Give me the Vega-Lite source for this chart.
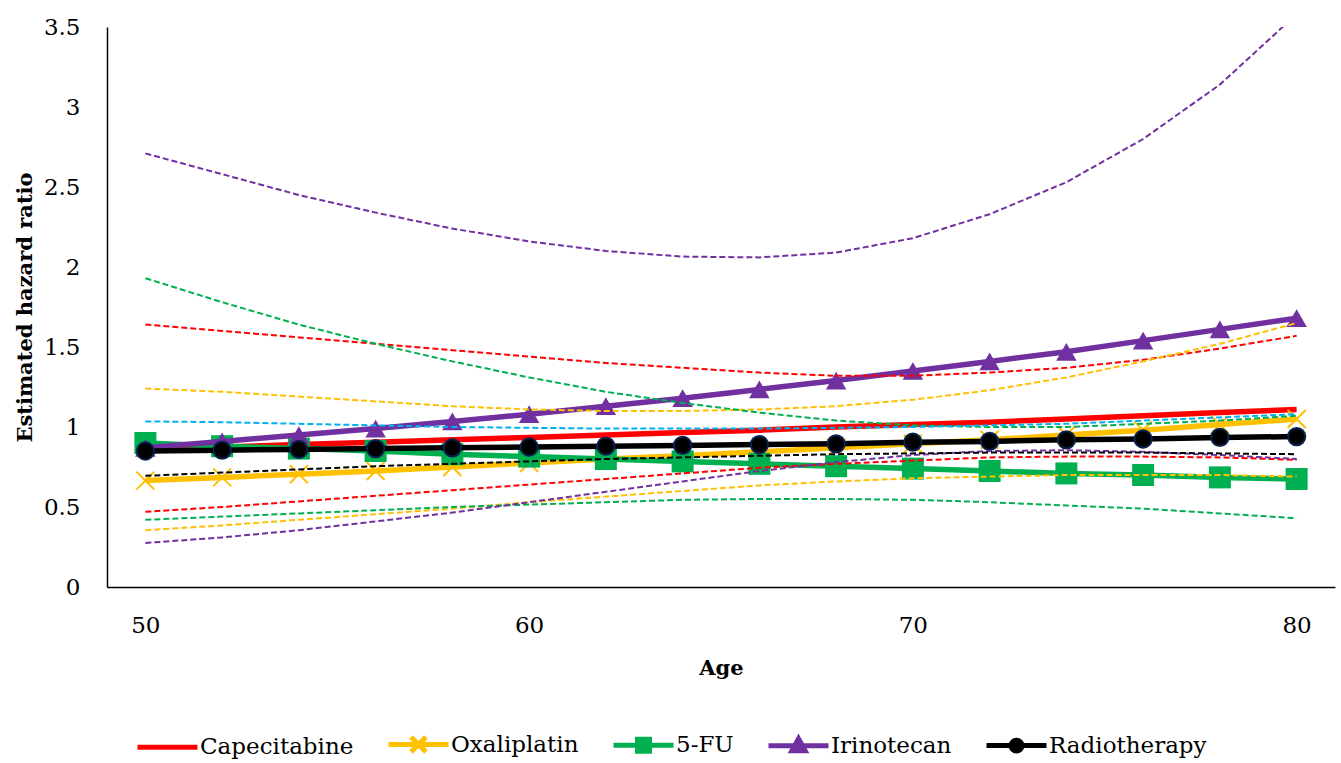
{
  "$schema": "https://vega.github.io/schema/vega-lite/v6.json",
  "width": 1228,
  "height": 560,
  "autosize": {"type": "none"},
  "padding": {"left": 107, "top": 27, "right": 6, "bottom": 176},
  "background": "white",
  "config": {
    "view": {"stroke": null},
    "font": "DejaVu Serif",
    "axis": {
      "grid": false, "ticks": false, "tickSize": 0,
      "domainColor": "#000000", "domainWidth": 1.5,
      "labelColor": "#000000", "labelFont": "DejaVu Serif", "labelFontSize": 23,
      "titleColor": "#000000", "titleFont": "DejaVu Serif", "titleFontSize": 21, "titleFontWeight": "bold"
    }
  },
  "data": {"values": [
    {"series": "Capecitabine", "age": 50, "hr": 0.86, "lo": 0.47, "hi": 1.64},
    {"series": "Capecitabine", "age": 52, "hr": 0.875, "lo": 0.50, "hi": 1.60},
    {"series": "Capecitabine", "age": 54, "hr": 0.89, "lo": 0.535, "hi": 1.56},
    {"series": "Capecitabine", "age": 56, "hr": 0.905, "lo": 0.57, "hi": 1.52},
    {"series": "Capecitabine", "age": 58, "hr": 0.92, "lo": 0.605, "hi": 1.48},
    {"series": "Capecitabine", "age": 60, "hr": 0.935, "lo": 0.64, "hi": 1.44},
    {"series": "Capecitabine", "age": 62, "hr": 0.95, "lo": 0.675, "hi": 1.40},
    {"series": "Capecitabine", "age": 64, "hr": 0.965, "lo": 0.71, "hi": 1.37},
    {"series": "Capecitabine", "age": 66, "hr": 0.98, "lo": 0.745, "hi": 1.34},
    {"series": "Capecitabine", "age": 68, "hr": 1.00, "lo": 0.77, "hi": 1.32},
    {"series": "Capecitabine", "age": 70, "hr": 1.015, "lo": 0.79, "hi": 1.32},
    {"series": "Capecitabine", "age": 72, "hr": 1.03, "lo": 0.81, "hi": 1.34},
    {"series": "Capecitabine", "age": 74, "hr": 1.05, "lo": 0.815, "hi": 1.37},
    {"series": "Capecitabine", "age": 76, "hr": 1.07, "lo": 0.815, "hi": 1.42},
    {"series": "Capecitabine", "age": 78, "hr": 1.09, "lo": 0.81, "hi": 1.49},
    {"series": "Capecitabine", "age": 80, "hr": 1.11, "lo": 0.795, "hi": 1.57},
    {"series": "Oxaliplatin", "age": 50, "hr": 0.665, "lo": 0.355, "hi": 1.24},
    {"series": "Oxaliplatin", "age": 52, "hr": 0.685, "lo": 0.385, "hi": 1.22},
    {"series": "Oxaliplatin", "age": 54, "hr": 0.705, "lo": 0.42, "hi": 1.19},
    {"series": "Oxaliplatin", "age": 56, "hr": 0.725, "lo": 0.455, "hi": 1.16},
    {"series": "Oxaliplatin", "age": 58, "hr": 0.75, "lo": 0.49, "hi": 1.13},
    {"series": "Oxaliplatin", "age": 60, "hr": 0.775, "lo": 0.53, "hi": 1.11},
    {"series": "Oxaliplatin", "age": 62, "hr": 0.80, "lo": 0.565, "hi": 1.10},
    {"series": "Oxaliplatin", "age": 64, "hr": 0.82, "lo": 0.60, "hi": 1.10},
    {"series": "Oxaliplatin", "age": 66, "hr": 0.845, "lo": 0.635, "hi": 1.11},
    {"series": "Oxaliplatin", "age": 68, "hr": 0.87, "lo": 0.66, "hi": 1.13},
    {"series": "Oxaliplatin", "age": 70, "hr": 0.895, "lo": 0.68, "hi": 1.17},
    {"series": "Oxaliplatin", "age": 72, "hr": 0.92, "lo": 0.69, "hi": 1.23},
    {"series": "Oxaliplatin", "age": 74, "hr": 0.95, "lo": 0.70, "hi": 1.31},
    {"series": "Oxaliplatin", "age": 76, "hr": 0.98, "lo": 0.70, "hi": 1.41},
    {"series": "Oxaliplatin", "age": 78, "hr": 1.015, "lo": 0.70, "hi": 1.52},
    {"series": "Oxaliplatin", "age": 80, "hr": 1.05, "lo": 0.69, "hi": 1.65},
    {"series": "5-FU", "age": 50, "hr": 0.90, "lo": 0.42, "hi": 1.93},
    {"series": "5-FU", "age": 52, "hr": 0.88, "lo": 0.44, "hi": 1.78},
    {"series": "5-FU", "age": 54, "hr": 0.865, "lo": 0.46, "hi": 1.64},
    {"series": "5-FU", "age": 56, "hr": 0.85, "lo": 0.48, "hi": 1.52},
    {"series": "5-FU", "age": 58, "hr": 0.83, "lo": 0.50, "hi": 1.41},
    {"series": "5-FU", "age": 60, "hr": 0.815, "lo": 0.515, "hi": 1.31},
    {"series": "5-FU", "age": 62, "hr": 0.80, "lo": 0.53, "hi": 1.22},
    {"series": "5-FU", "age": 64, "hr": 0.785, "lo": 0.545, "hi": 1.15},
    {"series": "5-FU", "age": 66, "hr": 0.77, "lo": 0.55, "hi": 1.09},
    {"series": "5-FU", "age": 68, "hr": 0.755, "lo": 0.55, "hi": 1.04},
    {"series": "5-FU", "age": 70, "hr": 0.74, "lo": 0.545, "hi": 1.01},
    {"series": "5-FU", "age": 72, "hr": 0.725, "lo": 0.53, "hi": 1.00},
    {"series": "5-FU", "age": 74, "hr": 0.71, "lo": 0.51, "hi": 1.00},
    {"series": "5-FU", "age": 76, "hr": 0.70, "lo": 0.49, "hi": 1.02},
    {"series": "5-FU", "age": 78, "hr": 0.685, "lo": 0.46, "hi": 1.04},
    {"series": "5-FU", "age": 80, "hr": 0.675, "lo": 0.43, "hi": 1.07},
    {"series": "Irinotecan", "age": 50, "hr": 0.87, "lo": 0.275, "hi": 2.71},
    {"series": "Irinotecan", "age": 52, "hr": 0.91, "lo": 0.31, "hi": 2.58},
    {"series": "Irinotecan", "age": 54, "hr": 0.95, "lo": 0.355, "hi": 2.45},
    {"series": "Irinotecan", "age": 56, "hr": 0.99, "lo": 0.41, "hi": 2.34},
    {"series": "Irinotecan", "age": 58, "hr": 1.035, "lo": 0.465, "hi": 2.24},
    {"series": "Irinotecan", "age": 60, "hr": 1.08, "lo": 0.53, "hi": 2.16},
    {"series": "Irinotecan", "age": 62, "hr": 1.13, "lo": 0.595, "hi": 2.10},
    {"series": "Irinotecan", "age": 64, "hr": 1.18, "lo": 0.66, "hi": 2.065},
    {"series": "Irinotecan", "age": 66, "hr": 1.235, "lo": 0.725, "hi": 2.06},
    {"series": "Irinotecan", "age": 68, "hr": 1.29, "lo": 0.78, "hi": 2.09},
    {"series": "Irinotecan", "age": 70, "hr": 1.35, "lo": 0.825, "hi": 2.18},
    {"series": "Irinotecan", "age": 72, "hr": 1.41, "lo": 0.85, "hi": 2.33},
    {"series": "Irinotecan", "age": 74, "hr": 1.47, "lo": 0.855, "hi": 2.53},
    {"series": "Irinotecan", "age": 76, "hr": 1.54, "lo": 0.845, "hi": 2.80},
    {"series": "Irinotecan", "age": 78, "hr": 1.61, "lo": 0.825, "hi": 3.14},
    {"series": "Irinotecan", "age": 80, "hr": 1.68, "lo": 0.80, "hi": 3.58},
    {"series": "Radiotherapy", "age": 50, "hr": 0.85, "lo": 0.695, "hi": 1.035},
    {"series": "Radiotherapy", "age": 52, "hr": 0.855, "lo": 0.715, "hi": 1.03},
    {"series": "Radiotherapy", "age": 54, "hr": 0.86, "lo": 0.735, "hi": 1.02},
    {"series": "Radiotherapy", "age": 56, "hr": 0.865, "lo": 0.755, "hi": 1.01},
    {"series": "Radiotherapy", "age": 58, "hr": 0.87, "lo": 0.77, "hi": 1.00},
    {"series": "Radiotherapy", "age": 60, "hr": 0.875, "lo": 0.785, "hi": 0.995},
    {"series": "Radiotherapy", "age": 62, "hr": 0.88, "lo": 0.80, "hi": 0.99},
    {"series": "Radiotherapy", "age": 64, "hr": 0.885, "lo": 0.81, "hi": 0.99},
    {"series": "Radiotherapy", "age": 66, "hr": 0.89, "lo": 0.82, "hi": 0.99},
    {"series": "Radiotherapy", "age": 68, "hr": 0.895, "lo": 0.83, "hi": 0.995},
    {"series": "Radiotherapy", "age": 70, "hr": 0.905, "lo": 0.835, "hi": 1.00},
    {"series": "Radiotherapy", "age": 72, "hr": 0.91, "lo": 0.84, "hi": 1.01},
    {"series": "Radiotherapy", "age": 74, "hr": 0.92, "lo": 0.84, "hi": 1.02},
    {"series": "Radiotherapy", "age": 76, "hr": 0.925, "lo": 0.84, "hi": 1.04},
    {"series": "Radiotherapy", "age": 78, "hr": 0.935, "lo": 0.835, "hi": 1.06},
    {"series": "Radiotherapy", "age": 80, "hr": 0.94, "lo": 0.83, "hi": 1.08}
  ]},
  "encoding": {
    "x": {"field": "age", "type": "quantitative",
      "scale": {"domain": [49, 81], "nice": false, "zero": false},
      "axis": {"values": [50, 60, 70, 80], "title": "Age", "labelPadding": 27, "titlePadding": 20}}
  },
  "layer": [
    {
      "transform": [{"filter": "datum.series === 'Capecitabine'"}],
      "mark": {"type": "line", "strokeWidth": 5.5, "clip": true},
      "encoding": {
        "y": {"field": "hr", "type": "quantitative",
          "scale": {"domain": [0, 3.5], "nice": false},
          "axis": {"values": [0, 0.5, 1, 1.5, 2, 2.5, 3, 3.5], "format": "~f", "title": "Estimated hazard ratio", "labelPadding": 27, "titlePadding": 8}},
        "color": {"field": "series", "type": "nominal",
          "scale": {"domain": ["Capecitabine", "Oxaliplatin", "5-FU", "Irinotecan", "Radiotherapy"],
                    "range": ["#FF0000", "#FFC000", "#00B050", "#7030A0", "#000000"]},
          "legend": {
            "orient": "none", "legendX": 28, "legendY": 685, "direction": "horizontal",
            "title": null, "labelFont": "DejaVu Serif", "labelFontSize": 23, "labelColor": "#000000",
            "symbolSize": 3600, "symbolStrokeWidth": 5, "labelOffset": 0, "columnPadding": 24,
            "encode": {"symbols": {"update": {
              "shape": {"signal": "datum.value === 'Capecitabine' ? 'M-1,0H1' : datum.value === 'Oxaliplatin' ? 'M-1,0H1M-0.25,-0.25L0.25,0.25M-0.25,0.25L0.25,-0.25' : datum.value === '5-FU' ? 'M-1,0H1M-0.2,-0.2H0.2V0.2H-0.2Z' : datum.value === 'Irinotecan' ? 'M-1,0H1M0,-0.24L0.22,0.16H-0.22Z' : 'M-1,0H1M-0.18,0A0.18,0.18 0 1,0 0.18,0A0.18,0.18 0 1,0 -0.18,0Z'"},
              "fill": {"scale": "color", "field": "value"},
              "stroke": {"scale": "color", "field": "value"},
              "strokeWidth": {"value": 5},
              "opacity": {"value": 1}
            }}}
          }}
      }
    },
    {
      "transform": [{"filter": "datum.series === 'Oxaliplatin'"}],
      "mark": {"type": "line", "strokeWidth": 5.5},
      "encoding": {"y": {"field": "hr", "type": "quantitative"}, "color": {"field": "series", "type": "nominal"}}
    },
    {
      "transform": [{"filter": "datum.series === 'Oxaliplatin'"}],
      "mark": {"type": "point", "shape": "M-1,-1L1,1M-1,1L1,-1", "filled": false, "stroke": "#FFC000", "strokeWidth": 2, "size": 324, "opacity": 1},
      "encoding": {"y": {"field": "hr", "type": "quantitative"}}
    },
    {
      "transform": [{"filter": "datum.series === '5-FU'"}],
      "mark": {"type": "line", "strokeWidth": 5.5},
      "encoding": {"y": {"field": "hr", "type": "quantitative"}, "color": {"field": "series", "type": "nominal"}}
    },
    {
      "transform": [{"filter": "datum.series === '5-FU'"}],
      "mark": {"type": "point", "shape": "square", "filled": true, "fill": "#00B050", "size": 484, "opacity": 1},
      "encoding": {"y": {"field": "hr", "type": "quantitative"}}
    },
    {
      "transform": [{"filter": "datum.series === 'Irinotecan'"}],
      "mark": {"type": "line", "strokeWidth": 5.5},
      "encoding": {"y": {"field": "hr", "type": "quantitative"}, "color": {"field": "series", "type": "nominal"}}
    },
    {
      "transform": [{"filter": "datum.series === 'Irinotecan'"}],
      "mark": {"type": "point", "shape": "triangle-up", "filled": true, "fill": "#7030A0", "size": 420, "opacity": 1},
      "encoding": {"y": {"field": "hr", "type": "quantitative"}}
    },
    {
      "transform": [{"filter": "datum.series === 'Radiotherapy'"}],
      "mark": {"type": "line", "strokeWidth": 5.5},
      "encoding": {"y": {"field": "hr", "type": "quantitative"}, "color": {"field": "series", "type": "nominal"}}
    },
    {
      "transform": [{"filter": "datum.series === 'Radiotherapy'"}],
      "mark": {"type": "point", "shape": "circle", "filled": true, "fill": "#000000", "stroke": "#0B2250", "strokeWidth": 2, "size": 300, "opacity": 1},
      "encoding": {"y": {"field": "hr", "type": "quantitative"}}
    },
    {
      "mark": {"type": "line", "strokeWidth": 2, "strokeDash": [6, 3], "clip": true},
      "encoding": {
        "y": {"field": "lo", "type": "quantitative"},
        "stroke": {"field": "series", "type": "nominal", "legend": null,
          "scale": {"domain": ["Capecitabine", "Oxaliplatin", "5-FU", "Irinotecan", "Radiotherapy"],
                    "range": ["#FF0000", "#FFC000", "#00B050", "#7030A0", "#000000"]}}
      }
    },
    {
      "transform": [{"filter": "datum.series !== 'Radiotherapy'"}],
      "mark": {"type": "line", "strokeWidth": 2, "strokeDash": [6, 3], "clip": true},
      "encoding": {
        "y": {"field": "hi", "type": "quantitative"},
        "stroke": {"field": "series", "type": "nominal", "legend": null}
      }
    },
    {
      "transform": [{"filter": "datum.series === 'Radiotherapy'"}],
      "mark": {"type": "line", "strokeWidth": 2, "strokeDash": [6, 3], "stroke": "#00B0F0", "clip": true},
      "encoding": {"y": {"field": "hi", "type": "quantitative"}}
    }
  ]
}
